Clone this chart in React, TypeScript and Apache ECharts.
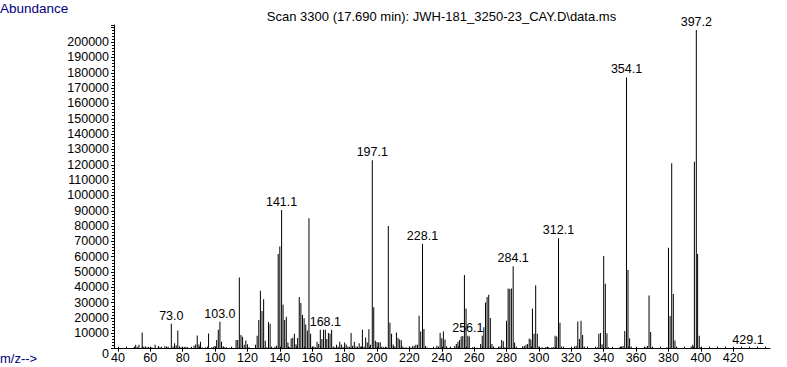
import React, { useEffect, useRef } from 'react';
import * as echarts from 'echarts';

const mzValues = [
  50, 51, 52, 53, 55, 56, 57, 58, 59, 61, 63, 65, 66, 67, 69, 70, 71, 73.0, 74, 75, 76, 77, 78, 79,
  81, 82, 83, 85, 87, 88, 89, 90, 91, 92, 94, 96, 98, 99, 100, 101, 102, 103.0, 104, 105, 106, 107,
  109, 111, 113, 114, 115, 116, 117, 118, 119, 120, 121, 125, 126, 127, 128, 129, 130, 131, 132, 133,
  134, 135, 137, 138, 139, 140, 141.1, 142, 143, 144, 145, 146, 147, 148, 149, 150, 151, 152, 153,
  154, 155, 156, 157, 158, 159, 160, 161, 162, 163, 164, 165, 166, 167, 168.1, 169, 170, 171, 172,
  173, 174, 175, 176, 177, 178, 179, 180, 181, 182, 183, 184, 185, 186, 187, 188, 189, 190, 191, 192,
  193, 194, 195, 196, 197.1, 198, 199, 200, 201, 202, 203, 204, 205, 206, 207, 208, 209, 210, 211,
  212, 213, 214, 215, 216, 217, 218, 220, 221, 222, 223, 224, 225, 226, 227, 228.1, 229, 230, 231,
  235, 237, 238, 239, 240, 241, 242, 243, 245, 248, 249, 250, 251, 252, 253, 254, 255, 256.1, 257,
  259, 262, 264, 265, 266, 267, 268, 269, 270, 271, 272, 276, 277, 278, 279, 280, 281, 282, 283,
  284.1, 285, 286, 290, 291, 292, 293, 294, 295, 296, 297, 298, 299, 300, 302, 304, 305, 306, 308,
  309, 310, 311, 312.1, 313, 314, 322, 323, 324, 325, 326, 327, 328, 336, 337, 338, 339, 340, 341,
  342, 343, 350, 351, 352, 353, 354.1, 355, 356, 357, 366, 367, 368, 369, 370, 379, 380, 381, 382,
  383, 384, 385, 394, 395, 396, 397.2, 398, 399, 400, 429.1,
];

const abundances = [
  800, 2500, 1200, 2500, 10500, 1200, 1500, 1000, 1300, 1000, 2500, 1800, 1000, 1200, 1600, 1000, 1400, 16200, 1400, 3500, 2200, 11800, 1600, 900,
  1100, 1300, 900, 700, 2000, 2700, 8600, 2700, 4600, 900, 900, 9900, 900, 1300, 1800, 5700, 12300, 17600, 4600, 1400, 1000, 900,
  600, 700, 5700, 5700, 46500, 9000, 7800, 2500, 5300, 2900, 1000, 2500, 8500, 18700, 37800, 24600, 32200, 5200, 1000, 17500,
  16200, 900, 1200, 2000, 61800, 66600, 90500, 28600, 18800, 20900, 4000, 900, 6600, 7200, 9700, 2900, 7000, 33800, 29800,
  22000, 19800, 15800, 11800, 85100, 9700, 1400, 1400, 900, 4600, 3100, 12300, 6400, 12300, 12300, 6400, 10300, 9700, 12300,
  1400, 1000, 2500, 1500, 4600, 2700, 1200, 4000, 2700, 1500, 1200, 10300, 2000, 4600, 1500, 1200, 3500, 1400, 12300, 1500,
  7300, 4000, 12700, 2500, 123000, 27000, 5200, 4400, 4100, 4200, 1400, 1000, 800, 1000, 80100, 16900, 9700, 2700, 1400,
  10500, 7000, 6000, 5500, 1400, 700, 1000, 1400, 800, 1600, 2000, 2500, 2500, 21500, 11200, 68400, 12800, 1800, 800,
  700, 2000, 1400, 10300, 6800, 11200, 6000, 1600, 700, 1800, 3100, 4600, 5700, 7900, 8300, 48100, 26300, 8400, 8000,
  900, 700, 3100, 8400, 14000, 30100, 33800, 35200, 20000, 3100, 1400, 1400, 5700, 4900, 1000, 18200, 39300, 39000, 39300,
  53800, 4000, 1400, 1500, 1800, 2500, 3000, 6600, 6000, 26300, 9700, 41400, 9700, 1400, 900, 1000, 1000, 1000, 1000,
  1000, 8400, 7900, 72100, 17000, 1400, 1400, 2000, 17700, 6400, 18200, 9000, 1400, 1000, 9700, 10300, 2900, 60500, 42300,
  10100, 1000, 1000, 1400, 1800, 11600, 177000, 51400, 6800, 1400, 1000, 1800, 34700, 10900, 1000, 1000, 65800, 21400, 121000,
  35700, 5300, 1000, 1400, 2500, 122000, 208000, 61800, 8400, 1000, 400,
];

const labeledPeaks = [73.0, 103.0, 141.1, 168.1, 197.1, 228.1, 256.1, 284.1, 312.1, 354.1, 397.2, 429.1];

const xTickValues = [40, 60, 80, 100, 120, 140, 160, 180, 200, 220, 240, 260, 280, 300, 320, 340, 360, 380, 400, 420];
const xMinorTickValues = [
  40, 45, 50, 55, 60, 65, 70, 75, 80, 85, 90, 95, 100, 105, 110, 115, 120, 125, 130, 135, 140, 145, 150, 155,
  160, 165, 170, 175, 180, 185, 190, 195, 200, 205, 210, 215, 220, 225, 230, 235, 240, 245, 250, 255, 260, 265,
  270, 275, 280, 285, 290, 295, 300, 305, 310, 315, 320, 325, 330, 335, 340, 345, 350, 355, 360, 365, 370, 375,
  380, 385, 390, 395, 400, 405, 410, 415, 420, 425, 430, 435, 440,
];

const titleText = 'Scan 3300 (17.690 min): JWH-181_3250-23_CAY.D\\data.ms';
const yAxisName = 'Abundance';
const xAxisName = 'm/z-->';

const FONT = '"Liberation Sans", Arial, sans-serif';

export default function App() {
  const ref = useRef<HTMLDivElement>(null);

  useEffect(() => {
    if (!ref.current) return;
    const chart = echarts.init(ref.current, null, { renderer: 'svg' });
    const data = mzValues.map((mz, i) => {
      const item: any = { value: [mz, abundances[i]] };
      if (labeledPeaks.includes(mz)) item.label = { show: true };
      return item;
    });

    chart.setOption({
      animation: false,
      backgroundColor: '#ffffff',
      textStyle: { fontFamily: FONT },
      grid: { left: 114, right: 17, top: 25, bottom: 18.3, containLabel: false, outerBoundsMode: 'none' },
      xAxis: [
        {
          type: 'value',
          min: 37.6,
          max: 442.7,
          position: 'bottom',
          axisLine: { show: true, onZero: false, lineStyle: { color: '#000', width: 1 } },
          axisTick: { show: true, inside: false, length: 3, customValues: xTickValues, lineStyle: { color: '#000' } },
          axisLabel: {
            show: true,
            customValues: xTickValues,
            margin: 3,
            color: '#000',
            fontSize: 12.5,
            fontFamily: FONT,
          },
          splitLine: { show: false },
        },
        {
          type: 'value',
          min: 37.6,
          max: 442.7,
          position: 'bottom',
          axisLine: { show: false, onZero: false },
          axisTick: { show: true, inside: true, length: 2, customValues: xMinorTickValues, lineStyle: { color: '#000' } },
          axisLabel: { show: false },
          splitLine: { show: false },
        },
      ],
      yAxis: {
        type: 'value',
        min: 0,
        max: 211200,
        interval: 10000,
        axisLine: { show: true, lineStyle: { color: '#000', width: 1 } },
        axisTick: { show: true, inside: false, length: 3, lineStyle: { color: '#000' } },
        minorTick: { show: true, splitNumber: 5, length: 2, lineStyle: { color: '#000' } },
        axisLabel: {
          margin: 5,
          color: '#000',
          fontSize: 12.5,
          fontFamily: FONT,
          formatter: (v: number) => (v > 200000 ? '' : v === 0 ? '{z|0}' : String(v)),
          rich: { z: { padding: [10, 0, 0, 0], fontSize: 12.5, fontFamily: FONT, color: '#000' } },
        },
        splitLine: { show: false },
      },
      graphic: [
        {
          type: 'text',
          x: 441.5,
          y: 16,
          style: { text: titleText, fill: '#000', font: `13px ${FONT}`, align: 'center', verticalAlign: 'middle' },
        },
        {
          type: 'text',
          x: 0,
          y: 8.5,
          style: { text: yAxisName, fill: '#000080', font: `13.5px ${FONT}`, align: 'left', verticalAlign: 'middle' },
        },
        {
          type: 'text',
          x: 0,
          y: 358,
          style: { text: xAxisName, fill: '#000080', font: `13px ${FONT}`, align: 'left', verticalAlign: 'middle' },
        },
      ],
      series: [
        {
          type: 'bar',
          xAxisIndex: 0,
          yAxisIndex: 0,
          data,
          barWidth: 1,
          large: false,
          silent: true,
          itemStyle: { color: '#000' },
          label: {
            show: false,
            position: 'top',
            distance: 1.5,
            color: '#000',
            fontSize: 12.5,
            fontFamily: FONT,
            formatter: (p: any) => Number(p.value[0]).toFixed(1),
          },
        },
      ],
    });
    return () => chart.dispose();
  }, []);

  return (
    <div
      ref={ref}
      style={{ position: 'fixed', left: 0, top: 0, width: 787, height: 367, background: '#fff' }}
    />
  );
}
